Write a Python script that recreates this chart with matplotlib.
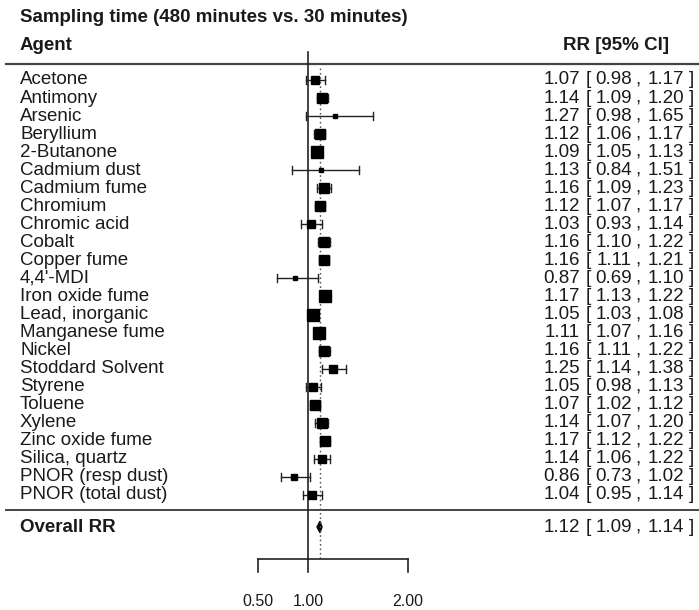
import numpy as np
import matplotlib.pyplot as plt
from matplotlib.patches import Polygon

# Rate ratios by agent, 480 min vs 30 min sampling
agents = ['Acetone', 'Antimony', 'Arsenic', 'Beryllium', '2-Butanone', 'Cadmium dust',
          'Cadmium fume', 'Chromium', 'Chromic acid', 'Cobalt', 'Copper fume', "4,4'-MDI",
          'Iron oxide fume', 'Lead, inorganic', 'Manganese fume', 'Nickel', 'Stoddard Solvent',
          'Styrene', 'Toluene', 'Xylene', 'Zinc oxide fume', 'Silica, quartz',
          'PNOR (resp dust)', 'PNOR (total dust)']
rr = [1.07, 1.14, 1.27, 1.12, 1.09, 1.13, 1.16, 1.12, 1.03, 1.16, 1.16, 0.87,
      1.17, 1.05, 1.11, 1.16, 1.25, 1.05, 1.07, 1.14, 1.17, 1.14, 0.86, 1.04]
lower = [0.98, 1.09, 0.98, 1.06, 1.05, 0.84, 1.09, 1.07, 0.93, 1.10, 1.11, 0.69,
         1.13, 1.03, 1.07, 1.11, 1.14, 0.98, 1.02, 1.07, 1.12, 1.06, 0.73, 0.95]
upper = [1.17, 1.20, 1.65, 1.17, 1.13, 1.51, 1.23, 1.17, 1.14, 1.22, 1.21, 1.10,
         1.22, 1.08, 1.16, 1.22, 1.38, 1.13, 1.12, 1.20, 1.22, 1.22, 1.02, 1.14]
overall = (1.12, 1.09, 1.14)
ticks = [0.5, 1.0, 2.0]

plt.rcParams['font.family'] = ['Liberation Sans', 'DejaVu Sans']
FS = 13.5
TXT = '#1a1a1a'

W, H = 699, 610
fig = plt.figure(figsize=(W / 100, H / 100), dpi=100)
ax = fig.add_axes([0, 0, 1, 1])
ax.set_axis_off()

# x: 100 px per RR unit with 1.0 at px 308; y: one unit per row, row 0 at px 80
px_per_x, x_ref_px = 100.0, 308.0
row0_px, row_px = 80.0, 18.04
ax.set_xlim(1 - x_ref_px / px_per_x, 1 + (W - x_ref_px) / px_per_x)
ax.set_ylim((H - row0_px) / row_px, -row0_px / row_px)


def xpx(p):
    return 1 + (p - x_ref_px) / px_per_x


def ypx(p):
    return (p - row0_px) / row_px


def ci_text(y, e, a, b):
    # "est [ lo , hi ]" laid out as fixed columns
    ax.text(xpx(580), y, f'{e:.2f}', fontsize=FS, color=TXT, va='center', ha='right')
    ax.text(xpx(586), y, '[', fontsize=FS, color=TXT, va='center', ha='left')
    ax.text(xpx(632), y, f'{a:.2f}', fontsize=FS, color=TXT, va='center', ha='right')
    ax.text(xpx(635), y, ',', fontsize=FS, color=TXT, va='center', ha='left')
    ax.text(xpx(684), y, f'{b:.2f}', fontsize=FS, color=TXT, va='center', ha='right')
    ax.text(xpx(689), y, ']', fontsize=FS, color=TXT, va='center', ha='left')


n = len(agents)
rows = np.arange(n)
lo, hi, est = np.array(lower), np.array(upper), np.array(rr)

# header and separators
ax.text(xpx(20), ypx(18), 'Sampling time (480 minutes vs. 30 minutes)', fontsize=FS,
        fontweight='bold', color=TXT, va='center', ha='left')
ax.text(xpx(20), ypx(46), 'Agent', fontsize=FS, fontweight='bold', color=TXT, va='center')
ax.text(xpx(616), ypx(46), 'RR [95% CI]', fontsize=FS, fontweight='bold', color=TXT,
        va='center', ha='center')
ax.plot([xpx(6), xpx(W)], [ypx(64), ypx(64)], color='#444444', lw=1.6)
ax.plot([xpx(6), xpx(W)], [ypx(510), ypx(510)], color='#444444', lw=1.4)

# reference lines
axis_y = ypx(559)
ax.plot([1, 1], [ypx(52), axis_y], color='#222222', lw=1.2)
ax.plot([overall[0], overall[0]], [ypx(68), axis_y], color='#555555', lw=1.0,
        linestyle=(0, (1.2, 2)))

# confidence intervals with end caps
cap = 0.22
for y, a, b in zip(rows, lo, hi):
    ax.plot([a, b], [y, y], color='#222222', lw=1.0)
    ax.plot([a, a], [y - cap, y + cap], color='#222222', lw=1.0)
    ax.plot([b, b], [y - cap, y + cap], color='#222222', lw=1.0)

# square size shrinks with interval width on the log scale
side_px = np.minimum(3.2 / np.sqrt(np.log(hi / lo)), 12.5)
for y, e, s in zip(rows, est, side_px):
    ax.plot(e, y, marker='s', color='black', markersize=s * 0.72, linestyle='none')

# agent labels and numeric column
for y, name, e, a, b in zip(rows, agents, est, lo, hi):
    ax.text(xpx(20), y, name, fontsize=FS, color=TXT, va='center', ha='left')
    ci_text(y, e, a, b)

# overall summary diamond
oy = ypx(527)
est_o, lo_o, hi_o = overall
dh = 0.32
ax.add_patch(Polygon([(lo_o, oy), (est_o, oy - dh), (hi_o, oy), (est_o, oy + dh)],
                     closed=True, color='black'))
ax.text(xpx(20), oy, 'Overall RR', fontsize=FS, fontweight='bold', color=TXT, va='center')
ci_text(oy, est_o, lo_o, hi_o)

# x axis
ax.plot([ticks[0], ticks[-1]], [axis_y, axis_y], color='#222222', lw=1.2)
for t in ticks:
    ax.plot([t, t], [axis_y, ypx(572)], color='#222222', lw=1.2)
    ax.text(t, ypx(601), f'{t:.2f}', fontsize=11.5, color=TXT, ha='center', va='center')

fig.savefig('out.png', dpi=100)
